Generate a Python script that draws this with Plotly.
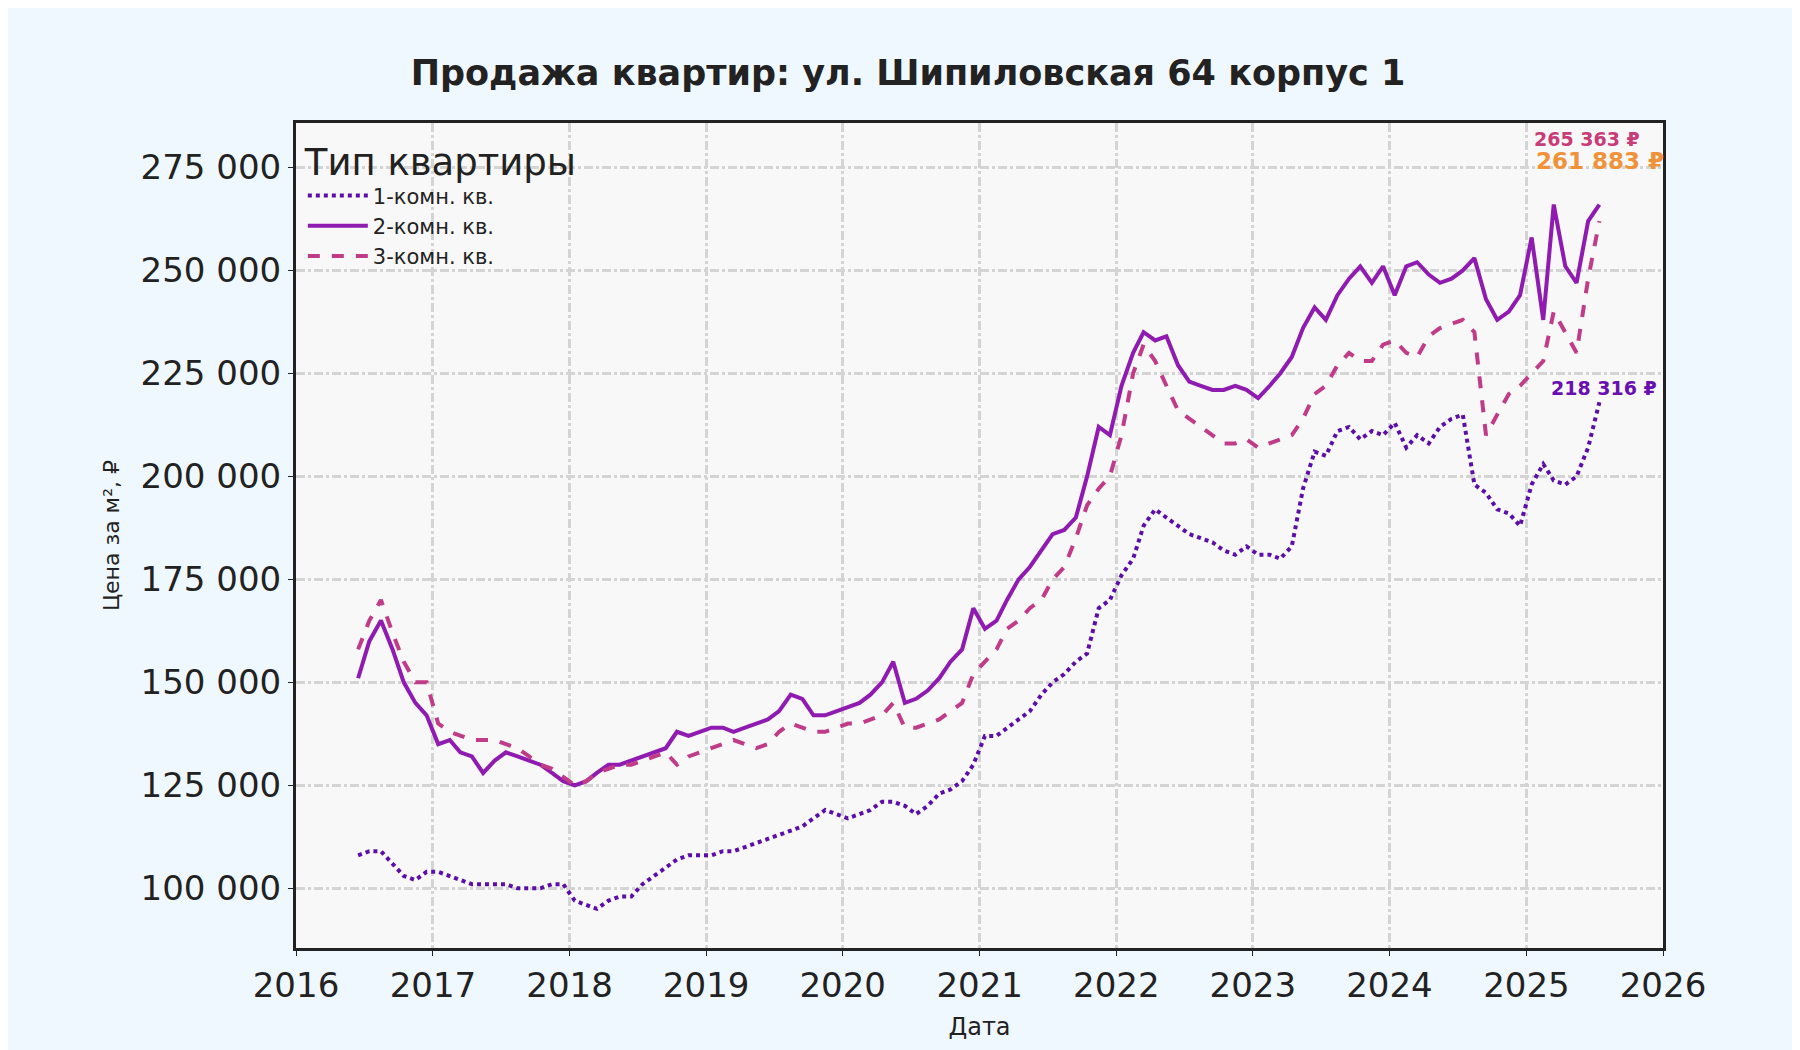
import plotly.graph_objects as go

months = [f"{y}-{m:02d}-15" for y in range(2016, 2026) for m in range(1, 13)]
start = months.index("2016-06-15")
end = months.index("2025-07-15")
dates = months[start:end + 1]

room2 = [151,160,165,158,150,145,142,
 135,136,133,132,128,131,133,132,131,130,128,126,
 125,126,128,130,130,131,132,133,134,138,137,138,
 139,139,138,139,140,141,143,147,146,142,142,143,
 144,145,147,150,155,145,146,148,151,155,158,168,
 163,165,170,175,178,182,186,187,190,200,212,210,
 222,230,235,233,234,227,223,222,221,221,222,221,
 219,222,225,229,236,241,238,244,248,251,247,251,
 244,251,252,249,247,248,250,253,243,238,240,244,
 258,238,266,251,247,262,266]
room3 = [158,165,170,162,155,150,150,
 140,138,137,136,136,136,135,134,132,130,129,127,
 125,126,128,129,130,130,131,132,133,130,132,133,
 134,135,136,135,134,135,138,140,139,138,138,139,
 140,140,141,142,145,139,139,140,141,143,145,152,
 155,158,163,165,168,170,175,178,185,193,197,200,
 210,225,232,228,222,216,214,212,210,208,208,209,
 207,208,209,210,214,220,222,227,230,228,228,232,
 233,230,229,234,236,237,238,235,210,215,220,222,
 225,228,240,235,230,248,262]
room1 = [108,109,109,106,103,102,104,
 104,103,102,101,101,101,101,100,100,100,101,101,
 97,96,95,97,98,98,101,103,105,107,108,108,
 108,109,109,110,111,112,113,114,115,117,119,118,
 117,118,119,121,121,120,118,120,123,124,126,130,
 137,137,139,141,143,147,150,152,155,157,168,170,
 176,180,188,192,190,188,186,185,184,182,181,183,
 181,181,180,183,197,206,205,211,212,209,211,210,
 213,207,210,208,212,214,215,198,196,192,191,188,
 198,203,199,198,200,207,218]

names = ["1-комн. кв.", "2-комн. кв.", "3-комн. кв."]
colors = ["#5b0fa8", "#8f1bb0", "#c03c88"]
dashes = ["dot", "solid", "dash"]
series = [room1, room2, room3]

fig = go.Figure()
for n, c, d, s in zip(names, colors, dashes, series):
    fig.add_trace(go.Scatter(x=dates, y=[v * 1000 for v in s], name=n, mode="lines",
                             line=dict(color=c, dash=d, width=4)))

fig.add_annotation(x=0.997, xref="paper", y=221500, text="<b>218 316 ₽</b>", showarrow=False,
                   xanchor="right", font=dict(color="#6a0fb0", size=19))
fig.add_annotation(x=0.985, xref="paper", y=282000, text="<b>265 363 ₽</b>", showarrow=False,
                   xanchor="right", font=dict(color="#c83c78", size=19))
fig.add_annotation(x=1.002, xref="paper", y=276500, text="<b>261 883 ₽</b>", showarrow=False,
                   xanchor="right", font=dict(color="#f0923a", size=23))

grid = dict(showgrid=True, gridcolor="#d4d4d4", griddash="dashdot", gridwidth=2.5,
            showline=True, linecolor="#222", linewidth=3, mirror=True, ticks="outside",
            tickcolor="#222", tickfont=dict(size=34, color="#222"))
fig.update_layout(
    width=1800, height=1050,
    paper_bgcolor="#f0f8ff", plot_bgcolor="#f8f8f8",
    font=dict(family="DejaVu Sans", color="#222"),
    title=dict(text="<b>Продажа квартир: ул. Шипиловская 64 корпус 1</b>", x=0.5, y=0.95,
               xanchor="center", font=dict(size=35)),
    margin=dict(l=288, r=145, t=115, b=110),
    legend=dict(x=0.005, y=0.995, xanchor="left", yanchor="top", bgcolor="rgba(0,0,0,0)",
                title=dict(text="Тип квартиры", font=dict(size=37)), font=dict(size=21),
                itemwidth=60),
    xaxis=dict(range=["2016-01-01", "2026-01-01"], dtick="M12", tickformat="%Y",
               title=dict(text="Дата", font=dict(size=24)), **grid),
    yaxis=dict(range=[85500, 285800], tickvals=[100000,125000,150000,175000,200000,225000,250000,275000],
               ticktext=["100 000","125 000","150 000","175 000","200 000","225 000","250 000","275 000"],
               title=dict(text="Цена за м², ₽", font=dict(size=22)), **grid),
)
fig.write_html("out.html")
